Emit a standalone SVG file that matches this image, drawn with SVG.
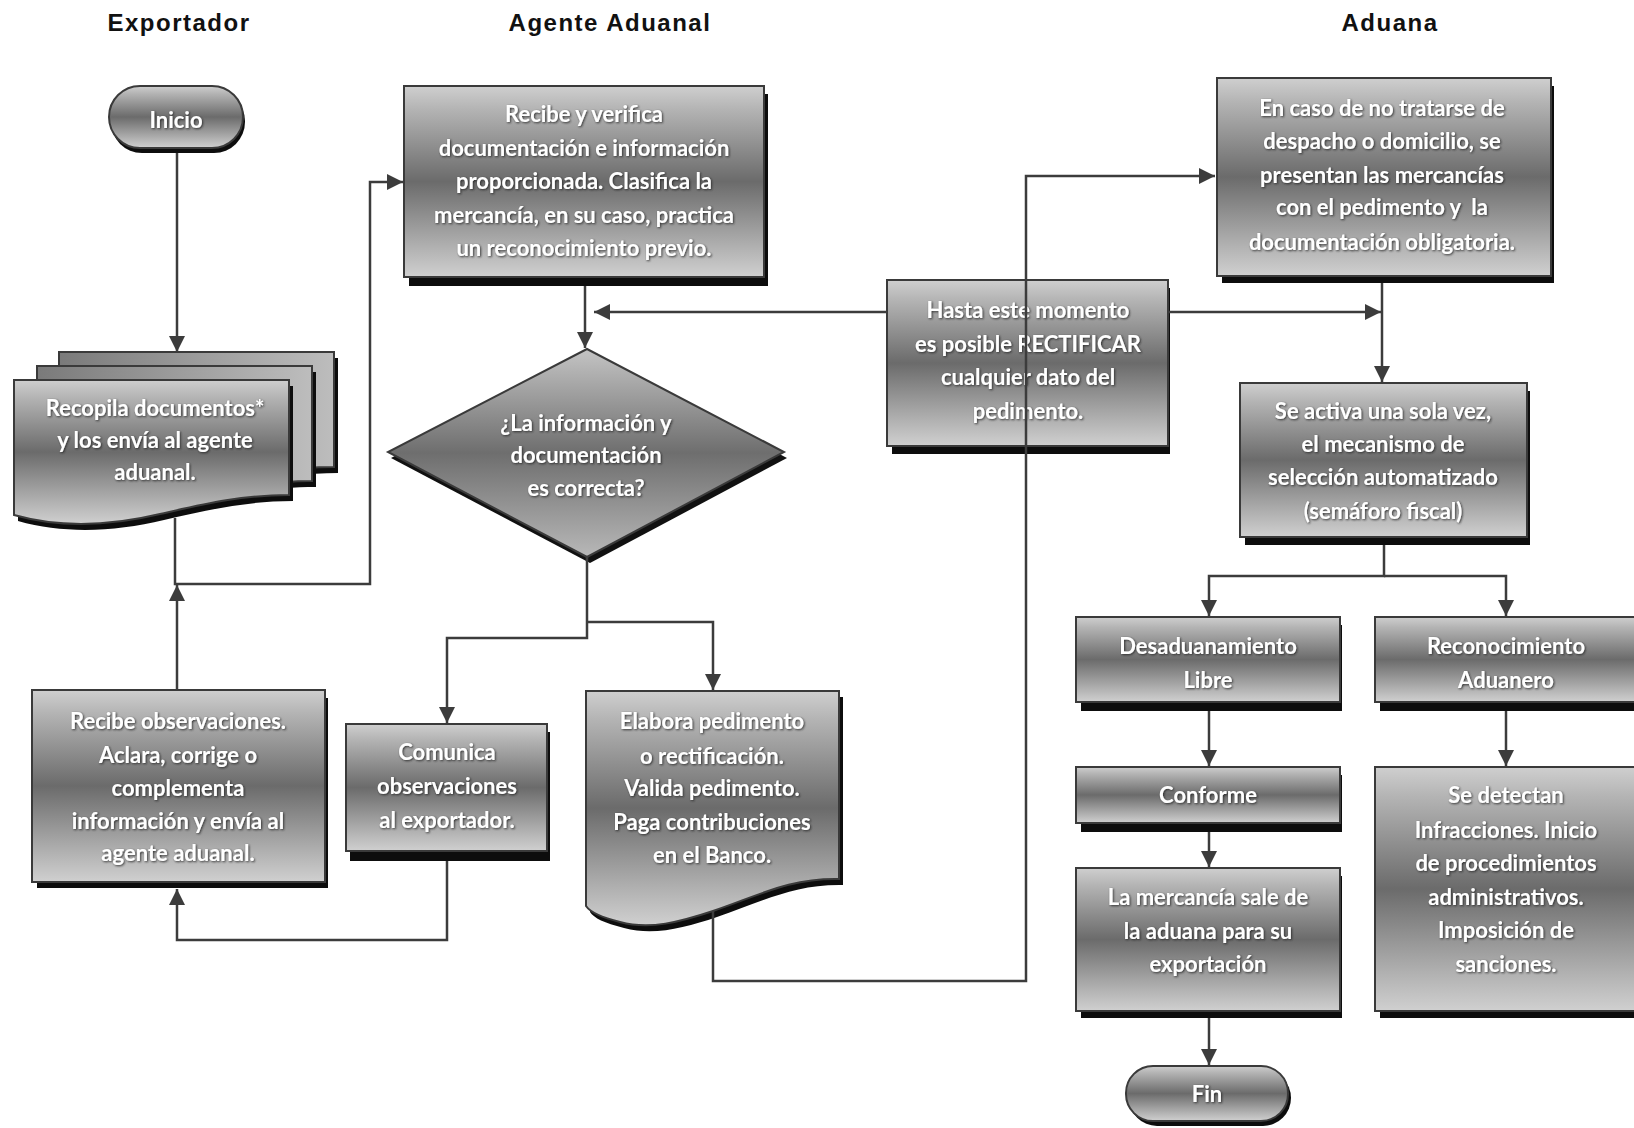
<svg xmlns="http://www.w3.org/2000/svg" width="1634" height="1128" viewBox="0 0 1634 1128">
<defs>
<linearGradient id="g" x1="0" y1="0" x2="0" y2="1">
<stop offset="0" stop-color="#cfcfcf"/>
<stop offset="0.12" stop-color="#b4b4b4"/>
<stop offset="0.5" stop-color="#6b6b6b"/>
<stop offset="0.85" stop-color="#b2b2b2"/>
<stop offset="1" stop-color="#d0d0d0"/>
</linearGradient>
<linearGradient id="gd" x1="0" y1="0" x2="0" y2="1">
<stop offset="0" stop-color="#c4c4c4"/>
<stop offset="0.5" stop-color="#6e6e6e"/>
<stop offset="1" stop-color="#b8b8b8"/>
</linearGradient>
<linearGradient id="gb" x1="0" y1="0" x2="1" y2="0">
<stop offset="0" stop-color="#7a7a7a"/>
<stop offset="1" stop-color="#bdbdbd"/>
</linearGradient>
<filter id="ts" x="-10%" y="-30%" width="120%" height="160%">
<feDropShadow dx="1" dy="1" stdDeviation="0.9" flood-color="#1a1a1a" flood-opacity="0.85"/>
</filter>
<marker id="ar" viewBox="0 0 10 10" refX="10" refY="5" markerWidth="6.5" markerHeight="6.5" orient="auto" markerUnits="strokeWidth">
<path d="M0 0 L10 5 L0 10 Z" fill="#3c3c3c"/>
</marker>
<path id="doc" d="M0 0 H275 V115 C226 115 186 125 146 134 C96 146 46 148 0 135 Z"/>
</defs>
<style>
.box{fill:url(#g);stroke:#3a3a3a;stroke-width:2}
.sh{fill:#0d0d0d}
.t{font-family:Lato,"Open Sans","Liberation Sans",sans-serif;font-weight:700;font-size:22px;fill:#ffffff;text-anchor:middle;filter:url(#ts)}
.hd{font-family:"Liberation Sans",Arial,sans-serif;font-weight:700;font-size:24px;fill:#111;text-anchor:middle;letter-spacing:1.5px}
.c{fill:none;stroke:#3c3c3c;stroke-width:2.5;marker-end:url(#ar)}
</style>
<rect width="1634" height="1128" fill="#ffffff"/>

<g id="headers">
<text class="hd" x="179" y="31">Exportador</text>
<text class="hd" x="610" y="31">Agente Aduanal</text>
<text class="hd" x="1390" y="31">Aduana</text>
</g>

<g id="inicio">
<rect class="sh" x="111" y="90" width="134" height="63" rx="31"/>
<rect class="box" x="109" y="86" width="134" height="62" rx="31"/>
<text class="t" x="176" y="128">Inicio</text>
</g>

<g id="recopila">
<use href="#doc" transform="translate(63,358)" fill="#0d0d0d"/>
<use href="#doc" transform="translate(59,352)" fill="url(#gb)" stroke="#3a3a3a" stroke-width="2"/>
<use href="#doc" transform="translate(41,372)" fill="#0d0d0d"/>
<use href="#doc" transform="translate(37,366)" fill="url(#gb)" stroke="#3a3a3a" stroke-width="2"/>
<use href="#doc" transform="translate(18,386)" fill="#0d0d0d"/>
<use href="#doc" transform="translate(14,380)" class="box"/>
<text class="t" x="155" y="416">Recopila documentos*</text>
<text class="t" x="155" y="448">y los envía al agente</text>
<text class="t" x="155" y="480">aduanal.</text>
</g>

<g id="recibe-verifica">
<rect class="sh" x="409" y="94" width="359" height="192"/>
<rect class="box" x="404" y="86" width="360" height="191"/>
<text class="t" x="584" y="122">Recibe y verifica</text>
<text class="t" x="584" y="155.5">documentación e información</text>
<text class="t" x="584" y="189">proporcionada. Clasifica la</text>
<text class="t" x="584" y="222.5">mercancía, en su caso, practica</text>
<text class="t" x="584" y="256">un reconocimiento previo.</text>
</g>

<g id="decision">
<polygon points="590,355 787,458 590,563 391,458" fill="#111"/>
<polygon points="587,349 784,452 587,557 388,452" fill="url(#gd)" stroke="#3a3a3a" stroke-width="2"/>
<text class="t" x="586" y="431">¿La información y</text>
<text class="t" x="586" y="463">documentación</text>
<text class="t" x="586" y="496">es correcta?</text>
</g>

<g id="recibe-observaciones">
<rect class="sh" x="37" y="698" width="291" height="190"/>
<rect class="box" x="32" y="690" width="293" height="192"/>
<text class="t" x="178" y="729">Recibe observaciones.</text>
<text class="t" x="178" y="763">Aclara, corrige o</text>
<text class="t" x="178" y="796">complementa</text>
<text class="t" x="178" y="829">información y envía al</text>
<text class="t" x="178" y="861">agente aduanal.</text>
</g>

<g id="comunica">
<rect class="sh" x="350" y="732" width="200" height="129"/>
<rect class="box" x="346" y="724" width="201" height="127"/>
<text class="t" x="447" y="760">Comunica</text>
<text class="t" x="447" y="794">observaciones</text>
<text class="t" x="447" y="828">al exportador.</text>
</g>

<g id="elabora">
<path d="M590 697 H843 V885 C794 884 764 901 717 917 C684 928 654 936 624 928 C604 923 594 918 590 912 Z" fill="#0d0d0d"/>
<path class="box" d="M586 691 H839 V879 C790 878 760 895 713 911 C680 922 650 930 620 922 C600 917 590 912 586 906 Z"/>
<text class="t" x="712" y="729">Elabora pedimento</text>
<text class="t" x="712" y="764">o rectificación.</text>
<text class="t" x="712" y="796">Valida pedimento.</text>
<text class="t" x="712" y="830">Paga contribuciones</text>
<text class="t" x="712" y="863">en el Banco.</text>
</g>

<g id="hasta">
<rect class="sh" x="892" y="288" width="278" height="166"/>
<rect class="box" x="887" y="280" width="281" height="166"/>
<text class="t" x="1028" y="318">Hasta este momento</text>
<text class="t" x="1028" y="352">es posible RECTIFICAR</text>
<text class="t" x="1028" y="385">cualquier dato del</text>
<text class="t" x="1028" y="419">pedimento.</text>
</g>

<g id="en-caso">
<rect class="sh" x="1222" y="86" width="332" height="197"/>
<rect class="box" x="1217" y="78" width="334" height="198"/>
<text class="t" x="1382" y="116">En caso de no tratarse de</text>
<text class="t" x="1382" y="149">despacho o domicilio, se</text>
<text class="t" x="1382" y="183">presentan las mercancías</text>
<text class="t" x="1382" y="215" xml:space="preserve">con el pedimento y  la</text>
<text class="t" x="1382" y="250">documentación obligatoria.</text>
</g>

<g id="se-activa">
<rect class="sh" x="1245" y="391" width="285" height="154"/>
<rect class="box" x="1240" y="383" width="287" height="154"/>
<text class="t" x="1383" y="419">Se activa una sola vez,</text>
<text class="t" x="1383" y="452">el mecanismo de</text>
<text class="t" x="1383" y="485">selección automatizado</text>
<text class="t" x="1383" y="519">(semáforo fiscal)</text>
</g>

<g id="desaduanamiento">
<rect class="sh" x="1081" y="625" width="261" height="86"/>
<rect class="box" x="1076" y="617" width="264" height="85"/>
<text class="t" x="1208" y="654">Desaduanamiento</text>
<text class="t" x="1208" y="688">Libre</text>
</g>

<g id="reconocimiento">
<rect class="sh" x="1380" y="625" width="262" height="86"/>
<rect class="box" x="1375" y="617" width="265" height="85"/>
<text class="t" x="1506" y="654">Reconocimiento</text>
<text class="t" x="1506" y="688">Aduanero</text>
</g>

<g id="conforme">
<rect class="sh" x="1081" y="775" width="261" height="57"/>
<rect class="box" x="1076" y="767" width="264" height="56"/>
<text class="t" x="1208" y="803">Conforme</text>
</g>

<g id="mercancia-sale">
<rect class="sh" x="1081" y="876" width="261" height="142"/>
<rect class="box" x="1076" y="868" width="264" height="143"/>
<text class="t" x="1208" y="905">La mercancía sale de</text>
<text class="t" x="1208" y="939">la aduana para su</text>
<text class="t" x="1208" y="972">exportación</text>
</g>

<g id="se-detectan">
<rect class="sh" x="1380" y="775" width="262" height="243"/>
<rect class="box" x="1375" y="767" width="265" height="244"/>
<text class="t" x="1506" y="803">Se detectan</text>
<text class="t" x="1506" y="838">Infracciones. Inicio</text>
<text class="t" x="1506" y="871">de procedimientos</text>
<text class="t" x="1506" y="905">administrativos.</text>
<text class="t" x="1506" y="938">Imposición de</text>
<text class="t" x="1506" y="972">sanciones.</text>
</g>

<g id="fin">
<rect class="sh" x="1129" y="1070" width="162" height="56" rx="28"/>
<rect class="box" x="1126" y="1066" width="162" height="55" rx="27"/>
<text class="t" x="1207" y="1102">Fin</text>
</g>

<g id="connectors">
<path class="c" d="M177 153 V352"/>
<path class="c" d="M175 518 V584 H370 V182 H403"/>
<path class="c" d="M177 690 V585"/>
<path class="c" d="M447 861 V940 H177 V889"/>
<path class="c" d="M585 286 V348"/>
<path class="c" d="M887 312 H594"/>
<path class="c" d="M587 557 V638 H447 V723"/>
<path class="c" d="M587 622 H713 V690"/>
<path class="c" d="M713 911 V981 H1026 V176 H1215"/>
<path class="c" d="M1168 312 H1381"/>
<path class="c" d="M1382 283 V382"/>
<path class="c" d="M1384 545 V576 H1209 V616"/>
<path class="c" d="M1384 576 H1506 V616"/>
<path class="c" d="M1209 711 V766"/>
<path class="c" d="M1209 832 V867"/>
<path class="c" d="M1209 1018 V1065"/>
<path class="c" d="M1506 711 V766"/>
</g>
</svg>
